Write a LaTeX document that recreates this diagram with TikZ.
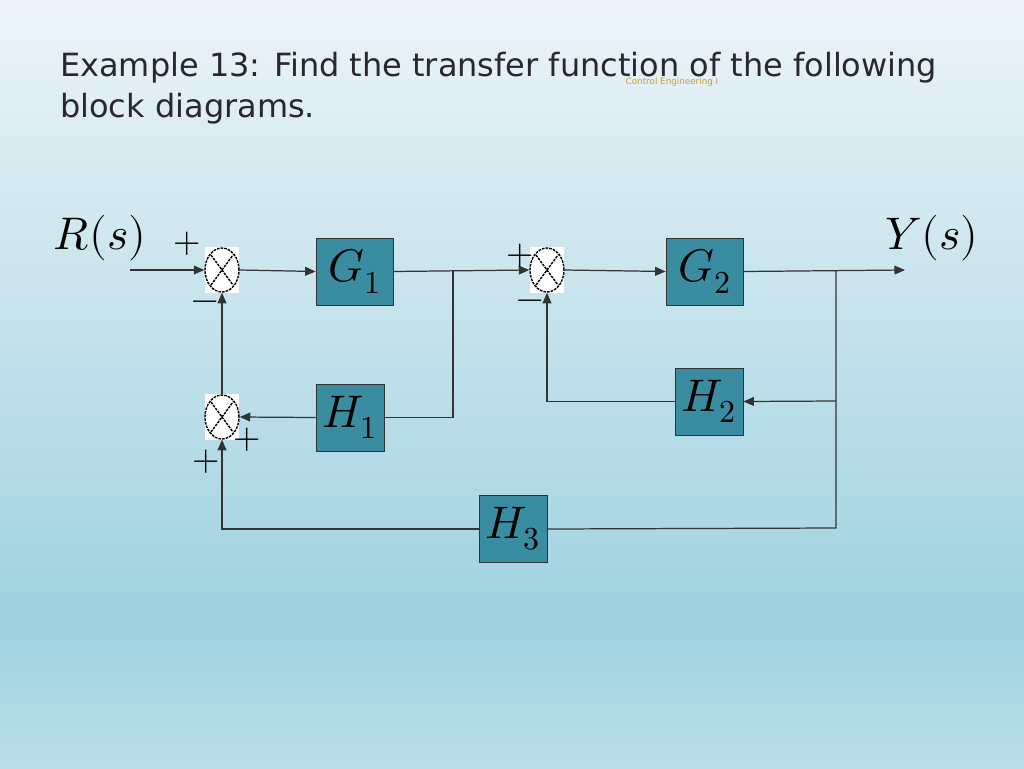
\documentclass[tikz,border=0pt]{standalone}
\usepackage{fontspec}
\setmainfont{DejaVu Sans}
\usepackage{unicode-math}
\setmathfont{Latin Modern Math}
\usetikzlibrary{arrows.meta,shapes.geometric}
\definecolor{boxc}{RGB}{58,140,160}
\definecolor{txt}{RGB}{40,40,45}
\begin{document}
\begin{tikzpicture}[x=0.02cm,y=-0.02cm,
  blk/.style={draw=black!80,fill=boxc,inner sep=0pt,font=\fontsize{26}{26}\selectfont},
  ln/.style={draw=black!80,line width=0.7pt},
  arr/.style={ln,-{Triangle[length=6pt,width=5pt]}},
  sg/.style={font=\fontsize{20}{20}\selectfont}]
\shade[top color={rgb,255:red,236;green,244;blue,248},bottom color={rgb,255:red,160;green,210;blue,224}] (0,0) rectangle (1024,620);
\shade[top color={rgb,255:red,160;green,210;blue,224},bottom color={rgb,255:red,185;green,222;blue,232}] (0,619) rectangle (1024,768);
\useasboundingbox (0,0) rectangle (1024,768);
\node[anchor=west,text=txt,font=\fontsize{18.2}{23.5}\selectfont,align=left] (title) at (54,88) {Example 13: Find the transfer function of the following\\block diagrams.};
\node[text={rgb,255:red,200;green,160;blue,40},font=\fontsize{5}{5}\selectfont] (ce) at (672,82) {Control Engineering I};
% sums
\foreach \n/\x/\y in {s1/222/270,s2/222/417,s3/547/270}{
  \fill[white] (\x-17,\y-23) rectangle (\x+17,\y+23);
  \node[draw,thick,dash pattern=on 1.5pt off 0.6pt,ellipse,minimum width=34*0.02cm,minimum height=44*0.02cm,inner sep=0pt] (\n) at (\x,\y) {};
  \draw[thick,dash pattern=on 1.5pt off 0.6pt] (\x-11,\y-15) -- (\x+11,\y+15) (\x-11,\y+15) -- (\x+11,\y-15);
}
\node[blk,minimum width=77*0.02cm,minimum height=67*0.02cm] (g1) at (354.5,271.5) {$G_1$};
\node[blk,minimum width=77*0.02cm,minimum height=67*0.02cm] (g2) at (704.5,271.5) {$G_2$};
\node[blk,minimum width=68*0.02cm,minimum height=67*0.02cm] (h1) at (350,417.5) {$H_1$};
\node[blk,minimum width=68*0.02cm,minimum height=67*0.02cm] (h2) at (709,401.5) {$H_2$};
\node[blk,minimum width=68*0.02cm,minimum height=67*0.02cm] (h3) at (513,529) {$H_3$};
\coordinate (in) at (130,270);
\coordinate (b1) at (453,270);
\coordinate (out) at (905,270);
\coordinate (b2) at (836,270);
\coordinate (b3) at (836,528);
\node[font=\fontsize{26}{26}\selectfont] (R) at (100,238) {$R(s)$};
\node[font=\fontsize{26}{26}\selectfont] (Y) at (932,238) {$Y(s)$};
\draw[arr] (in) -- (s1.west);
\draw[arr] (s1.east) -- (g1.west);
\draw[arr] (g1.east) -- (s3.west);
\draw[ln] (b1) |- (h1.east);
\draw[arr] (h1.west) -- (s2.east);
\draw[arr] (s2.north) -- (s1.south);
\draw[arr] (s3.east) -- (g2.west);
\draw[arr] (g2.east) -- (out);
\draw[ln] (b2) -- (b3) -- (h3.east);
\draw[arr] (836,401) -- (h2.east);
\draw[arr] (h2.west) -| (s3.south);
\draw[arr] (h3.west) -| (s2.south);
\node[sg] (p1) at (187,244) {$+$};
\node[sg] (m1) at (205,306) {$-$};
\node[sg] (p2) at (520,256) {$+$};
\node[sg] (m2) at (530,305) {$-$};
\node[sg] (p3) at (247,440) {$+$};
\node[sg] (p4) at (206,462) {$+$};
\end{tikzpicture}
\end{document}
